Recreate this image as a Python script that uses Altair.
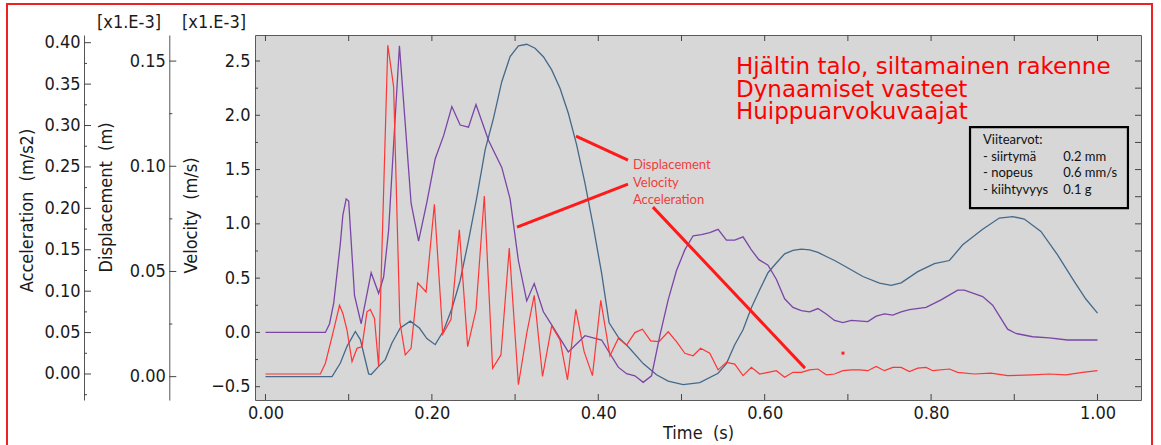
import altair as alt
import pandas as pd

# ---- measured response: time (s) and values -------------------------------
# velocity, x1e-3 m/s
vel_t = [0.0, 0.072, 0.077, 0.082, 0.090, 0.093, 0.097, 0.100, 0.107, 0.115,
         0.127, 0.136, 0.142, 0.148, 0.155, 0.161, 0.168, 0.175, 0.184, 0.194,
         0.204, 0.214, 0.224, 0.234, 0.244, 0.253, 0.268, 0.284, 0.294, 0.304,
         0.314, 0.323, 0.334, 0.344, 0.364, 0.384, 0.404, 0.424, 0.434, 0.444,
         0.454, 0.464, 0.474, 0.484, 0.494, 0.504, 0.514, 0.524, 0.534, 0.544,
         0.554, 0.564, 0.574, 0.584, 0.593, 0.604, 0.614, 0.624, 0.634, 0.644,
         0.654, 0.664, 0.674, 0.684, 0.694, 0.704, 0.724, 0.734, 0.744, 0.754,
         0.764, 0.774, 0.794, 0.812, 0.832, 0.840, 0.862, 0.874, 0.892, 0.902,
         0.922, 0.942, 0.964, 0.982, 1.0]
vel_v = [0.0, 0.0, 0.08, 0.27, 0.82, 1.08, 1.23, 1.21, 0.34, 0.08,
         0.55, 0.36, 0.51, 0.94, 1.86, 2.64, 1.92, 1.19, 0.84, 1.20,
         1.60, 1.81, 2.08, 1.91, 1.89, 2.10, 1.77, 1.52, 1.23, 0.66,
         0.29, 0.45, 0.19, 0.07, -0.18, -0.03, -0.07, -0.32, -0.38, -0.40,
         -0.46, -0.40, -0.03, 0.30, 0.57, 0.76, 0.89, 0.90, 0.92, 0.95,
         0.85, 0.85, 0.88, 0.76, 0.67, 0.62, 0.49, 0.31, 0.23, 0.20,
         0.19, 0.22, 0.17, 0.11, 0.09, 0.11, 0.10, 0.15, 0.17, 0.16,
         0.19, 0.21, 0.23, 0.30, 0.39, 0.39, 0.33, 0.25, 0.03, -0.01,
         -0.04, -0.05, -0.07, -0.07, -0.07]

# displacement, x1e-3 m
dis_t = [0.0, 0.080, 0.090, 0.098, 0.108, 0.114, 0.124, 0.127, 0.136, 0.144,
         0.152, 0.162, 0.174, 0.185, 0.194, 0.204, 0.214, 0.2245, 0.234, 0.244,
         0.254, 0.264, 0.274, 0.284, 0.294, 0.304, 0.314, 0.324, 0.334, 0.344,
         0.354, 0.364, 0.374, 0.384, 0.394, 0.404, 0.413, 0.424, 0.436, 0.454,
         0.470, 0.484, 0.502, 0.522, 0.544, 0.554, 0.564, 0.574, 0.584, 0.594,
         0.604, 0.614, 0.624, 0.634, 0.644, 0.654, 0.664, 0.674, 0.684, 0.698,
         0.718, 0.738, 0.752, 0.764, 0.784, 0.804, 0.822, 0.838, 0.862, 0.882,
         0.898, 0.912, 0.932, 0.952, 0.972, 0.986, 1.0]
dis_d = [0.0, 0.0, 0.0065, 0.0144, 0.0215, 0.0176, 0.0013, 0.0010, 0.0049, 0.0081,
         0.0160, 0.0231, 0.0264, 0.0231, 0.0181, 0.0152, 0.0218, 0.0329, 0.0457, 0.0647,
         0.0852, 0.1078, 0.1228, 0.1402, 0.1521, 0.1572, 0.1580, 0.1561, 0.1521, 0.1458,
         0.1371, 0.1252, 0.1102, 0.0920, 0.0714, 0.0492, 0.0256, 0.0188, 0.0142, 0.0062,
         0.0009, -0.0021, -0.0038, -0.0028, 0.0016, 0.0062, 0.0152, 0.0223, 0.0328, 0.0413,
         0.0494, 0.0540, 0.0584, 0.0600, 0.0606, 0.0603, 0.0591, 0.0571, 0.0552, 0.0521,
         0.0476, 0.0445, 0.0434, 0.0446, 0.0499, 0.0537, 0.0552, 0.0627, 0.0701, 0.0754,
         0.0761, 0.0749, 0.0690, 0.0579, 0.0453, 0.0369, 0.0302]

# acceleration, m/s2
acc_t = [0.0, 0.066, 0.072, 0.080, 0.089, 0.093, 0.098, 0.104, 0.110, 0.116,
         0.122, 0.126, 0.131, 0.136, 0.147, 0.154, 0.1615, 0.168, 0.175, 0.183,
         0.193, 0.203, 0.213, 0.223, 0.233, 0.243, 0.253, 0.263, 0.273, 0.283,
         0.293, 0.304, 0.314, 0.323, 0.333, 0.344, 0.354, 0.363, 0.373, 0.383,
         0.393, 0.403, 0.414, 0.424, 0.434, 0.444, 0.453, 0.463, 0.473, 0.484,
         0.494, 0.504, 0.514, 0.523, 0.534, 0.544, 0.554, 0.564, 0.574, 0.584,
         0.594, 0.604, 0.614, 0.624, 0.634, 0.644, 0.654, 0.664, 0.674, 0.684,
         0.694, 0.704, 0.714, 0.724, 0.734, 0.744, 0.754, 0.764, 0.774, 0.784,
         0.794, 0.802, 0.822, 0.832, 0.852, 0.872, 0.892, 0.922, 0.942, 0.962,
         0.982, 1.0]
acc_a = [0.0, 0.0, 0.013, 0.045, 0.083, 0.073, 0.053, 0.015, 0.031, 0.033,
         0.075, 0.078, 0.067, 0.009, 0.397, 0.347, 0.063, 0.023, 0.031, 0.110,
         0.099, 0.205, 0.048, 0.066, 0.174, 0.033, 0.077, 0.215, 0.007, 0.023,
         0.152, -0.013, 0.049, 0.095, -0.003, 0.058, 0.041, -0.007, 0.078, 0.027,
         -0.002, 0.089, 0.022, 0.043, 0.035, 0.050, 0.054, 0.040, 0.039, 0.051,
         0.039, 0.025, 0.022, 0.031, 0.025, 0.005, 0.014, 0.012, -0.002, 0.008,
         0.0, 0.002, 0.004, -0.004, 0.002, 0.002, 0.005, 0.006, -0.001, 0.0,
         0.004, 0.005, 0.005, 0.004, 0.009, 0.004, 0.008, 0.008, 0.003, 0.007,
         0.008, 0.004, 0.006, 0.002, 0.0, 0.001, -0.002, -0.001, 0.0, -0.001,
         0.002, 0.004]

# ---- tick values ------------------------------------------------------------
time_labels = [0.0, 0.2, 0.4, 0.6, 0.8, 1.0]
time_ticks = [0.0, 0.1, 0.2, 0.3, 0.4, 0.5, 0.6, 0.7, 0.8, 0.9, 1.0]
vel_major = [-0.5, 0.0, 0.5, 1.0, 1.5, 2.0, 2.5]
vel_minor = [-0.25, 0.25, 0.75, 1.25, 1.75, 2.25]
dis_major = [0.0, 0.05, 0.10, 0.15]
dis_minor = [0.025, 0.075, 0.125]
acc_major = [0.0, 0.05, 0.10, 0.15, 0.20, 0.25, 0.30, 0.35, 0.40]
acc_minor = [-0.025, 0.025, 0.075, 0.125, 0.175, 0.225, 0.275, 0.325, 0.375]

# ---- annotations (placed in time / velocity units) --------------------------
title_lines = ["Hjältin talo, siltamainen rakenne", "Dynaamiset vasteet", "Huippuarvokuvaajat"]
title_v = [2.379, 2.167, 1.965]
title_t = 0.5655

series_names = ["Displacement", "Velocity", "Acceleration"]
name_v = [1.541, 1.375, 1.2185]
name_t = 0.4417

lead_t1 = [0.3732, 0.3023, 0.4657]
lead_v1 = [1.808, 0.970, 1.154]
lead_t2 = [0.4357, 0.4357, 0.6484]
lead_v2 = [1.587, 1.366, -0.329]

ref_labels = ["Viitearvot:", "- siirtymä", "- nopeus", "- kiihtyvyys"]
ref_values = ["", "0.2 mm", "0.6 mm/s", "0.1 g"]
ref_v = [1.7344, 1.5805, 1.4276, 1.2738]
ref_t_label = 0.8624
ref_t_value = 0.9589
box_t = [0.8468, 1.0366]
box_v = [1.891, 1.145]

dot_t = [0.6941]
dot_v = [-0.1907]

# ---- scales -----------------------------------------------------------------
T_DOMAIN = [-0.0126, 1.0523]
VEL_DOMAIN = [-0.6225, 2.7395]
DIS_DOMAIN = [-0.0111, 0.1624]
ACC_DOMAIN = [-0.0314, 0.4093]

W, H = 886, 365
PLOT_LEFT = 255
DIS_AXIS_X = 169.3
ACC_AXIS_X = 84

VEL_COLOR = "#7b45a6"
DIS_COLOR = "#44698a"
ACC_COLOR = "#ff3535"
AXIS_COLOR = "#555555"
TICK_COLOR = "#444444"
TXT = "#1a1a1a"
LABEL_FONT = "DejaVu Sans Condensed"
NOTE_FONT = "Lato"

t_scale = alt.Scale(domain=T_DOMAIN, nice=False, zero=False)


def vscale(dom):
    return alt.Scale(domain=dom, nice=False, zero=False)


def px_to_t(px):
    """Horizontal pixel offset from the plot's left edge -> time value."""
    return T_DOMAIN[0] + px * (T_DOMAIN[1] - T_DOMAIN[0]) / W


def px_to_v(py):
    """Vertical pixel offset from the plot's top edge -> velocity value."""
    return VEL_DOMAIN[1] - py * (VEL_DOMAIN[1] - VEL_DOMAIN[0]) / H


vel_df = pd.DataFrame({"t": vel_t, "y": vel_v})
dis_df = pd.DataFrame({"t": dis_t, "y": dis_d})
acc_df = pd.DataFrame({"t": acc_t, "y": acc_a})

no_x = alt.X("t:Q", scale=t_scale, axis=None)

# velocity curve with the time axis and the velocity labels
vel_line = alt.Chart(vel_df).mark_line(color=VEL_COLOR, strokeWidth=1.3).encode(
    x=alt.X("t:Q", scale=t_scale, axis=alt.Axis(
        orient="bottom", values=time_labels, format=".2f", ticks=False, tickSize=0,
        domain=False, labelPadding=4, title="Time\u00a0 (s)", titleY=33,
        titleBaseline="middle")),
    y=alt.Y("y:Q", scale=vscale(VEL_DOMAIN), axis=alt.Axis(
        orient="left", offset=0, values=vel_major, format=".1f",
        ticks=False, tickSize=0, domain=False, labelPadding=5,
        title="Velocity\u00a0 (m/s)", titleX=-63.5, titleY=180,
        titleAlign="center", titleBaseline="middle")),
)

dis_line = alt.Chart(dis_df).mark_line(color=DIS_COLOR, strokeWidth=1.3).encode(
    x=no_x,
    y=alt.Y("y:Q", scale=vscale(DIS_DOMAIN), axis=alt.Axis(
        orient="left", offset=PLOT_LEFT - DIS_AXIS_X, values=dis_major,
        format=".2f", ticks=False, tickSize=0, domain=True, labelPadding=4,
        title="Displacement\u00a0 (m)", titleX=-63, titleY=162,
        titleAlign="center", titleBaseline="middle")),
)

acc_line = alt.Chart(acc_df).mark_line(color=ACC_COLOR, strokeWidth=1.2).encode(
    x=no_x,
    y=alt.Y("y:Q", scale=vscale(ACC_DOMAIN), axis=alt.Axis(
        orient="left", offset=PLOT_LEFT - ACC_AXIS_X, values=acc_major,
        format=".2f", ticks=False, tickSize=0, domain=True, labelPadding=4,
        title="Acceleration\u00a0 (m/s2)", titleX=-57, titleY=175,
        titleAlign="center", titleBaseline="middle")),
)


# ---- tick marks, drawn as short rule segments -------------------------------
def y_ticks(vals, dom, x0, length):
    df = pd.DataFrame({"v": vals, "t1": [px_to_t(x0)] * len(vals),
                       "t2": [px_to_t(x0 + length)] * len(vals)})
    return alt.Chart(df).mark_rule(color=TICK_COLOR, strokeWidth=1).encode(
        x=alt.X("t1:Q", scale=t_scale, axis=None), x2="t2:Q",
        y=alt.Y("v:Q", scale=vscale(dom), axis=None), y2="v:Q")


def t_ticks(vals, y0, y1):
    df = pd.DataFrame({"t": vals, "v1": [px_to_v(y0)] * len(vals),
                       "v2": [px_to_v(y1)] * len(vals)})
    return alt.Chart(df).mark_rule(color=TICK_COLOR, strokeWidth=1).encode(
        x=alt.X("t:Q", scale=t_scale, axis=None), x2="t:Q",
        y=alt.Y("v1:Q", scale=vscale(VEL_DOMAIN), axis=None), y2="v2:Q")


dis_x = DIS_AXIS_X - PLOT_LEFT
acc_x = ACC_AXIS_X - PLOT_LEFT
tick_layers = [
    y_ticks(vel_major, VEL_DOMAIN, 0, 5),
    y_ticks(vel_minor, VEL_DOMAIN, 0, 3),
    y_ticks(vel_major + vel_minor, VEL_DOMAIN, W - 6, 6),
    y_ticks(dis_major, DIS_DOMAIN, dis_x, 7),
    y_ticks(dis_minor, DIS_DOMAIN, dis_x, 3),
    y_ticks(acc_major, ACC_DOMAIN, acc_x, 7),
    y_ticks(acc_minor, ACC_DOMAIN, acc_x, 3),
    t_ticks(time_ticks, 0, 6),
    t_ticks(time_ticks, H - 6, H),
]

# ---- annotation layers --------------------------------------------------------
vy = lambda f: alt.Y(f, scale=vscale(VEL_DOMAIN), axis=None)
vx = lambda f: alt.X(f, scale=t_scale, axis=None)

title_df = pd.DataFrame({"t": [title_t] * 3, "v": title_v, "txt": title_lines})
title_txt = alt.Chart(title_df).mark_text(
    align="left", baseline="alphabetic", font="DejaVu Sans", fontSize=23, color="#ff0000"
).encode(x=vx("t:Q"), y=vy("v:Q"), text="txt:N")

lead_df = pd.DataFrame({"t1": lead_t1, "v1": lead_v1, "t2": lead_t2, "v2": lead_v2})
leaders = alt.Chart(lead_df).mark_rule(color="#ff1a1a", strokeWidth=3).encode(
    x=vx("t1:Q"), x2="t2:Q", y=vy("v1:Q"), y2="v2:Q")

names_df = pd.DataFrame({"t": [name_t] * 3, "v": name_v, "txt": series_names})
names_txt = alt.Chart(names_df).mark_text(
    align="left", baseline="middle", font=NOTE_FONT, fontSize=13, color="#f03c3c"
).encode(x=vx("t:Q"), y=vy("v:Q"), text="txt:N")

dot_df = pd.DataFrame({"t": dot_t, "v": dot_v})
dot = alt.Chart(dot_df).mark_square(size=9, color="#ff2020", opacity=1).encode(
    x=vx("t:Q"), y=vy("v:Q"))

box_df = pd.DataFrame({"t1": [box_t[0]], "t2": [box_t[1]], "v1": [box_v[0]], "v2": [box_v[1]]})
box = alt.Chart(box_df).mark_rect(fill="#d7d7d7", stroke="#000000", strokeWidth=2.2).encode(
    x=vx("t1:Q"), x2="t2:Q", y=vy("v1:Q"), y2="v2:Q")

ref_df = pd.DataFrame({"v": ref_v, "lab": ref_labels, "val": ref_values,
                       "tl": [ref_t_label] * 4, "tv": [ref_t_value] * 4})
ref_lab = alt.Chart(ref_df).mark_text(
    align="left", baseline="alphabetic", font=NOTE_FONT, fontSize=13, color="#111111"
).encode(x=vx("tl:Q"), y=vy("v:Q"), text="lab:N")
ref_val = alt.Chart(ref_df).mark_text(
    align="left", baseline="alphabetic", font=NOTE_FONT, fontSize=13, color="#111111"
).encode(x=vx("tv:Q"), y=vy("v:Q"), text="val:N")

# scale multipliers above the displacement and velocity axes
mult_df = pd.DataFrame({"px": [129 - PLOT_LEFT, 214 - PLOT_LEFT], "txt": ["[x1.E-3]", "[x1.E-3]"]})
mult_txt = alt.Chart(mult_df).mark_text(
    align="center", baseline="middle", font=LABEL_FONT, fontSize=18, color=TXT
).encode(x=alt.X("px:Q", scale=None, axis=None), y=alt.value(-12), text="txt:N")

# red frame round the whole figure
frame = alt.Chart(pd.DataFrame({"k": [0]})).mark_rect(
    fillOpacity=0, stroke="#ee2222", strokeWidth=2
).encode(x=alt.value(7 - PLOT_LEFT), x2=alt.value(1152 - PLOT_LEFT),
         y=alt.value(4 - 35), y2=alt.value(470))

chart = alt.layer(
    dis_line, vel_line, acc_line,
    leaders, names_txt, dot, box, ref_lab, ref_val, title_txt, mult_txt, frame,
    *tick_layers,
).resolve_scale(y="independent").resolve_axis(x="independent").properties(
    width=W, height=H,
    autosize=alt.AutoSizeParams(type="none"),
    padding={"left": PLOT_LEFT, "top": 35, "right": 20, "bottom": 45},
    background="#ffffff",
).configure_view(
    fill="#d7d7d7", stroke="#5a5a5a", strokeWidth=1
).configure_axis(
    labelFont=LABEL_FONT, labelFontSize=18, labelColor=TXT,
    titleFont=LABEL_FONT, titleFontSize=18, titleFontWeight="normal", titleColor=TXT,
    domainColor=AXIS_COLOR, tickColor=AXIS_COLOR, grid=False,
)

chart.save("out.html", embed_options={"renderer": "svg", "actions": False})
